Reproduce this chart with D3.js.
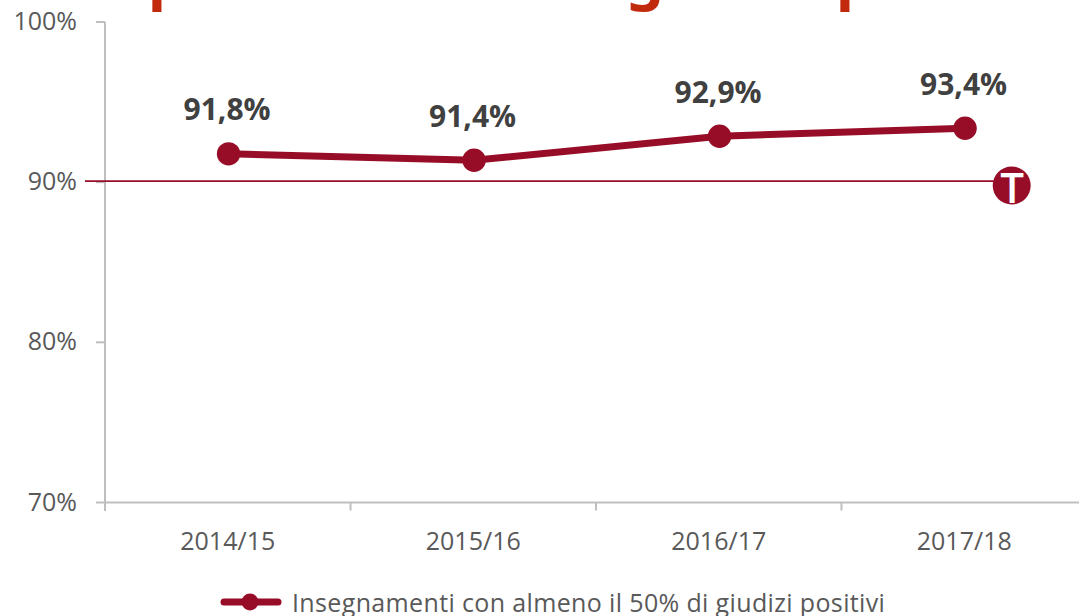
<!DOCTYPE html>
<html><head><meta charset="utf-8">
<script src="https://cdn.jsdelivr.net/npm/d3@7"></script>
<style>html,body{margin:0;padding:0;background:#fff}svg{display:block}text{font-family:"Open Sans","Noto Sans",sans-serif}</style>
</head><body><svg id="c" width="1079" height="616"></svg>
<script>
const categories=["2014/15","2015/16","2016/17","2017/18"];
const values=[91.8,91.4,92.9,93.4];
const valueLabels=["91,8%","91,4%","92,9%","93,4%"];
const yTicks=[70,80,90,100];
const target=90;
const seriesName="Insegnamenti con almeno il 50% di giudizi positivi";
const titleFragments=["p","g","p"];
const svg=d3.select("#c");
const x=d3.scaleBand().domain(categories).range([105,1087]);
const y=d3.scaleLinear().domain([70,100]).range([502.5,22]);
const dark="#970d27",grey="#bfbfbf",txt="#595959";
const px=d=>x(d)+x.bandwidth()/2;
const titleX=[148,626,836];
svg.selectAll(".d").data(titleFragments).join("text").attr("x",(d,i)=>titleX[i]).attr("y",-2).style("font-family","Noto Sans").attr("font-weight",700).attr("font-size",60).attr("fill","#c12a0c").text(d=>d);
const ax=d3.axisLeft(y).tickValues(yTicks).tickFormat(d=>d+"%").tickSize(9).tickPadding(19).offset(0);
const gy=svg.append("g").attr("transform","translate(105,0)").call(ax);
gy.select(".domain").attr("stroke",grey).attr("stroke-width",2).attr("d","M0,22V511");
gy.selectAll("line").attr("stroke",grey).attr("stroke-width",2);
gy.selectAll("text").attr("font-size",25).attr("font-family",null).attr("fill",txt);
const gx=svg.append("g").attr("transform","translate(0,502.5)");
gx.append("line").attr("x1",105).attr("x2",1079).attr("stroke",grey).attr("stroke-width",2);
gx.selectAll(".t").data(categories.slice(1)).join("line").attr("x1",d=>x(d)).attr("x2",d=>x(d)).attr("y1",0).attr("y2",8).attr("stroke",grey).attr("stroke-width",2);
gx.selectAll(".l").data(categories).join("text").attr("x",px).attr("y",47.5).attr("text-anchor","middle").attr("font-size",25).attr("fill",txt).text(d=>d);
svg.append("line").attr("x1",85).attr("x2",1012).attr("y1",y(target)-1).attr("y2",y(target)-1).attr("stroke",dark).attr("stroke-width",1.8);
const marks=svg.append("g").attr("transform","translate(0.8,0.5)");
const line=d3.line().x((d,i)=>px(categories[i])).y(d=>y(d));
marks.append("path").attr("d",line(values)).attr("fill","none").attr("stroke",dark).attr("stroke-width",7);
marks.selectAll(".p").data(values).join("circle").attr("cx",(d,i)=>px(categories[i])).attr("cy",d=>y(d)).attr("r",11.7).attr("fill",dark);
marks.selectAll(".v").data(values).join("text").attr("x",(d,i)=>px(categories[i])-1.5).attr("y",d=>y(d)-33.5).attr("text-anchor","middle").attr("font-size",30).attr("font-weight",700).attr("fill","#404040").text((d,i)=>valueLabels[i]);
svg.append("circle").attr("cx",1011.7).attr("cy",185.5).attr("r",19).attr("fill",dark);
svg.append("text").attr("x",1012).attr("y",203).attr("text-anchor","middle").attr("font-size",42).attr("font-weight",600).attr("fill","#fff").text("T");
svg.append("line").attr("x1",224).attr("x2",278).attr("y1",602).attr("y2",602).attr("stroke",dark).attr("stroke-width",7).attr("stroke-linecap","round");
svg.append("circle").attr("cx",250).attr("cy",602).attr("r",8.5).attr("fill",dark);
svg.append("text").attr("x",292).attr("y",612).attr("font-size",25).attr("letter-spacing",0.36).attr("fill",txt).text(seriesName);
</script></body></html>
